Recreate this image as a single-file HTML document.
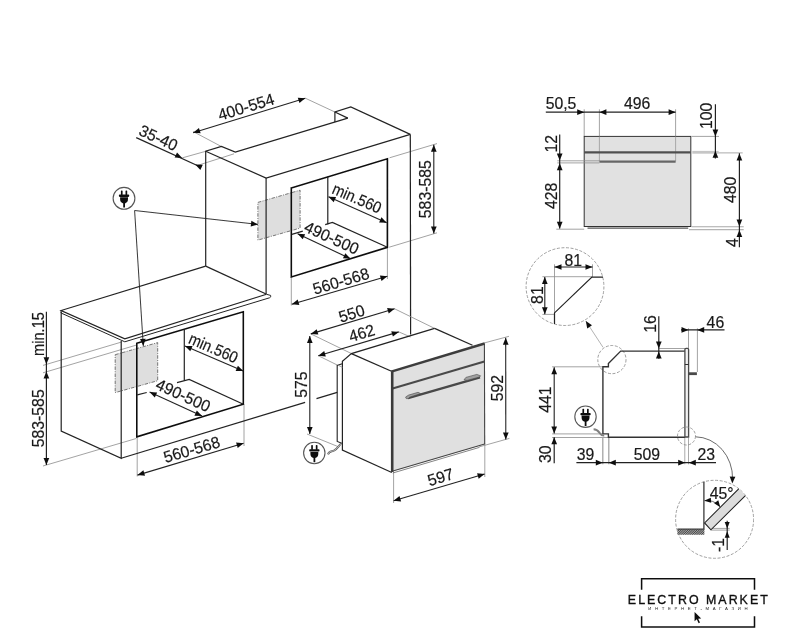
<!DOCTYPE html>
<html lang="ru">
<head>
<meta charset="utf-8">
<title>Electro Market — схема встраивания духового шкафа</title>
<style>
html,body{margin:0;padding:0;background:#fff;}
body{width:791px;height:640px;overflow:hidden;}
svg{display:block;font-family:"Liberation Sans",sans-serif;}
</style>
</head>
<body>
<svg width="791" height="640" viewBox="0 0 791 640">
<defs><filter id="soft" x="0" y="0" width="791" height="640" filterUnits="userSpaceOnUse"><feGaussianBlur stdDeviation="0.32"/></filter></defs>
<rect width="791" height="640" fill="#fff"/>
<g filter="url(#soft)">
<polygon points="257.9,202.4 300.1,190.2 300.1,228.1 257.9,240.1" fill="#dedede" stroke="#666" stroke-width="0.9" stroke-dasharray="3.5 1.3 1 1.3"/>
<polygon points="115.2,354.7 157.7,342.6 157.7,380.7 115.2,392.6" fill="#dedede" stroke="#666" stroke-width="0.9" stroke-dasharray="3.5 1.3 1 1.3"/>
<line x1="193" y1="131.5" x2="221.4" y2="146.5" stroke="#8c8c8c" stroke-width="0.8" />
<line x1="305.3" y1="98.2" x2="334.9" y2="112" stroke="#8c8c8c" stroke-width="0.8" />
<line x1="182.2" y1="157.9" x2="205.7" y2="151.3" stroke="#8c8c8c" stroke-width="0.8" />
<line x1="197.3" y1="165.5" x2="234" y2="153.8" stroke="#8c8c8c" stroke-width="0.8" />
<line x1="291.3" y1="277" x2="291.3" y2="305.5" stroke="#8c8c8c" stroke-width="0.8" />
<line x1="387.4" y1="247.3" x2="387.4" y2="279" stroke="#8c8c8c" stroke-width="0.8" />
<line x1="389.5" y1="157.8" x2="437" y2="143.6" stroke="#8c8c8c" stroke-width="0.8" />
<line x1="389.2" y1="247.2" x2="437" y2="232.8" stroke="#8c8c8c" stroke-width="0.8" />
<polyline points="205.7,266.1 205.7,151.3 221.4,146.5 235.3,152 347.8,118.1" fill="none" stroke="#222" stroke-width="1.2" />
<polyline points="205.7,151.3 266.1,178.1 410.3,134.4" fill="none" stroke="#222" stroke-width="1.2" />
<line x1="266.1" y1="178.1" x2="266.1" y2="294" stroke="#222" stroke-width="1.2" />
<line x1="410.3" y1="134.4" x2="410.6" y2="334.5" stroke="#222" stroke-width="1.2" />
<polyline points="334.9,121.9 334.9,112 350.8,107 410.3,134.4" fill="none" stroke="#222" stroke-width="1.2" />
<line x1="334.9" y1="112" x2="347.8" y2="118.1" stroke="#222" stroke-width="1.2" />
<line x1="327.8" y1="176.8" x2="327.8" y2="224.3" stroke="#222" stroke-width="1.2" />
<line x1="291.8" y1="234.3" x2="302.8" y2="231.1" stroke="#222" stroke-width="1.2" />
<polyline points="325.2,224.6 332.4,222.5 387.4,247.3" fill="none" stroke="#222" stroke-width="1.2" />
<polygon points="291.3,187.9 387.4,158.8 387.4,247.3 291.3,276.9" fill="none" stroke="#111" stroke-width="1.6" />
<line x1="328.5" y1="196.8" x2="386.7" y2="222.8" stroke="#222" stroke-width="1.1" />
<polygon points="386.7,222.8 379.15,222.55 381.47,217.34" fill="#111"/>
<polygon points="328.5,196.8 336.05,197.05 333.73,202.26" fill="#111"/>
<line x1="297.6" y1="233.8" x2="350.5" y2="258.7" stroke="#222" stroke-width="1.1" />
<polygon points="350.5,258.7 342.95,258.3 345.38,253.14" fill="#111"/>
<polygon points="297.6,233.8 305.15,234.2 302.72,239.36" fill="#111"/>
<line x1="291.8" y1="304.3" x2="387.4" y2="276.2" stroke="#222" stroke-width="1.1" />
<polygon points="387.4,276.2 381.49,280.91 379.88,275.44" fill="#111"/>
<polygon points="291.8,304.3 297.71,299.59 299.32,305.06" fill="#111"/>
<line x1="433.8" y1="144.7" x2="433.8" y2="233.5" stroke="#222" stroke-width="1.1" />
<polygon points="433.8,233.5 430.95,226.5 436.65,226.5" fill="#111"/>
<polygon points="433.8,144.7 436.65,151.7 430.95,151.7" fill="#111"/>
<line x1="193.1" y1="132.7" x2="305.3" y2="98.3" stroke="#222" stroke-width="1.1" />
<polygon points="305.3,98.3 299.44,103.08 297.77,97.63" fill="#111"/>
<polygon points="193.1,132.7 198.96,127.92 200.63,133.37" fill="#111"/>
<line x1="136.2" y1="137.6" x2="201.1" y2="167.2" stroke="#222" stroke-width="1.2" />
<polygon points="182.2,157.9 174.65,157.59 177.01,152.4" fill="#111"/>
<polygon points="195.2,164.4 202.75,164.71 200.39,169.9" fill="#111"/>
<text transform="translate(246.1 107.3) rotate(-17) scale(0.975 1)" x="0" y="5.2" text-anchor="middle" font-size="16.2" fill="#1a1a1a" stroke="#1a1a1a" stroke-width="0.2" >400-554</text>
<text transform="translate(158.2 138.2) rotate(24.5) scale(0.975 1)" x="0" y="5.2" text-anchor="middle" font-size="16.2" fill="#1a1a1a" stroke="#1a1a1a" stroke-width="0.2" >35-40</text>
<text transform="translate(356.8 198.5) rotate(23.5) scale(0.9 1)" x="0" y="5.2" text-anchor="middle" font-size="16.2" fill="#1a1a1a" stroke="#1a1a1a" stroke-width="0.2" >min.560</text>
<text transform="translate(331.6 238.2) rotate(24.5) scale(0.975 1)" x="0" y="5.2" text-anchor="middle" font-size="16.2" fill="#1a1a1a" stroke="#1a1a1a" stroke-width="0.2" >490-500</text>
<text transform="translate(341.1 281.5) rotate(-16.5) scale(0.975 1)" x="0" y="5.2" text-anchor="middle" font-size="16.2" fill="#1a1a1a" stroke="#1a1a1a" stroke-width="0.2" >560-568</text>
<text transform="translate(425.6 189.2) rotate(-90) scale(0.975 1)" x="0" y="5.2" text-anchor="middle" font-size="16.2" fill="#1a1a1a" stroke="#1a1a1a" stroke-width="0.2" >583-585</text>
<polyline points="258,224.4 134.6,210.5 143.3,345.9" fill="none" stroke="#222" stroke-width="0.9" />
<polygon points="258,224.4 250.72,226.45 251.36,220.78" fill="#111"/>
<polygon points="143.3,345.9 140.01,339.1 145.7,338.73" fill="#111"/>
<g transform="translate(124 198.3)"><circle r="10.9" fill="#fff" stroke="#555" stroke-width="1.1"/><rect x="-3.1" y="-7.9" width="1.7" height="4.8" rx="0.6" fill="#111"/><rect x="1.5" y="-7.9" width="1.7" height="4.8" rx="0.6" fill="#111"/><rect x="-5.1" y="-3.8" width="10.3" height="2.4" rx="0.8" fill="#111"/><path d="M-3.9,-1.1 H4 V1 C4,3.5 2.6,4.6 1,5.1 V9.2 H-0.8 V5.1 C-2.5,4.6 -3.9,3.5 -3.9,1 Z" fill="#111"/></g>
<line x1="43" y1="365.4" x2="121" y2="342.2" stroke="#8c8c8c" stroke-width="0.8" />
<line x1="43" y1="372.8" x2="136" y2="345.2" stroke="#8c8c8c" stroke-width="0.8" />
<line x1="43" y1="466" x2="136.2" y2="438.5" stroke="#8c8c8c" stroke-width="0.8" />
<line x1="137.2" y1="437" x2="137.2" y2="476.5" stroke="#8c8c8c" stroke-width="0.8" />
<line x1="244" y1="404" x2="244" y2="446" stroke="#8c8c8c" stroke-width="0.8" />
<polyline points="205.7,266.1 61.1,310.5 124.8,338.8 266.5,294.3" fill="none" stroke="#222" stroke-width="1.2" />
<line x1="205.7" y1="266.1" x2="266.1" y2="294" stroke="#222" stroke-width="1.2" />
<path d="M61.1,310.5 L61.1,313 L124.8,341.8 L269.5,297.8 Q271.5,297 270.6,295.4 L266.5,294.3" fill="none" stroke="#222" stroke-width="1"/>
<polyline points="61.2,312 61.2,431 121.2,458.3 121.2,341" fill="none" stroke="#222" stroke-width="1.2" />
<line x1="121.2" y1="458.3" x2="305.1" y2="402.4" stroke="#222" stroke-width="1.2" />
<line x1="316.5" y1="398.6" x2="337.2" y2="392.4" stroke="#222" stroke-width="1.2" />
<line x1="184.3" y1="330" x2="184.3" y2="380.6" stroke="#222" stroke-width="1.2" />
<line x1="137.3" y1="394.9" x2="146.7" y2="392.5" stroke="#222" stroke-width="1.2" />
<polyline points="177,382.6 189.2,379.4 243.4,404.2" fill="none" stroke="#222" stroke-width="1.2" />
<polygon points="136.8,343.3 243.3,311.7 243.3,404.2 136.8,436.8" fill="none" stroke="#111" stroke-width="1.6" />
<line x1="185" y1="345.9" x2="243.2" y2="371.1" stroke="#222" stroke-width="1.1" />
<polygon points="243.2,371.1 235.64,370.93 237.91,365.7" fill="#111"/>
<polygon points="185,345.9 192.56,346.07 190.29,351.3" fill="#111"/>
<line x1="149.6" y1="392.1" x2="202" y2="416.1" stroke="#222" stroke-width="1.1" />
<polygon points="202,416.1 194.45,415.78 196.82,410.59" fill="#111"/>
<polygon points="149.6,392.1 157.15,392.42 154.78,397.61" fill="#111"/>
<line x1="137.5" y1="475.1" x2="243.6" y2="443.2" stroke="#222" stroke-width="1.1" />
<polygon points="243.6,443.2 237.72,447.94 236.08,442.49" fill="#111"/>
<polygon points="137.5,475.1 143.38,470.36 145.02,475.81" fill="#111"/>
<line x1="46.4" y1="311.7" x2="46.4" y2="465" stroke="#222" stroke-width="1.2" />
<polygon points="46.4,364.2 43.55,357.2 49.25,357.2" fill="#111"/>
<polygon points="46.4,371.6 49.25,378.6 43.55,378.6" fill="#111"/>
<polygon points="46.4,465 43.55,458 49.25,458" fill="#111"/>
<text transform="translate(38.6 334) rotate(-90) scale(0.9 1)" x="0" y="5.2" text-anchor="middle" font-size="16.2" fill="#1a1a1a" stroke="#1a1a1a" stroke-width="0.2" >min.15</text>
<text transform="translate(38.8 418.3) rotate(-90) scale(0.975 1)" x="0" y="5.2" text-anchor="middle" font-size="16.2" fill="#1a1a1a" stroke="#1a1a1a" stroke-width="0.2" >583-585</text>
<text transform="translate(213.3 348.4) rotate(23.5) scale(0.9 1)" x="0" y="5.2" text-anchor="middle" font-size="16.2" fill="#1a1a1a" stroke="#1a1a1a" stroke-width="0.2" >min.560</text>
<text transform="translate(183 395.7) rotate(24.5) scale(0.975 1)" x="0" y="5.2" text-anchor="middle" font-size="16.2" fill="#1a1a1a" stroke="#1a1a1a" stroke-width="0.2" >490-500</text>
<text transform="translate(191.8 449.9) rotate(-16.5) scale(0.975 1)" x="0" y="5.2" text-anchor="middle" font-size="16.2" fill="#1a1a1a" stroke="#1a1a1a" stroke-width="0.2" >560-568</text>
<line x1="310.8" y1="333.9" x2="351.7" y2="353.7" stroke="#8c8c8c" stroke-width="0.8" />
<line x1="318.3" y1="355.7" x2="337.2" y2="365" stroke="#8c8c8c" stroke-width="0.8" />
<line x1="394.6" y1="308.8" x2="434.6" y2="328.4" stroke="#8c8c8c" stroke-width="0.8" />
<line x1="398.8" y1="331.9" x2="410.6" y2="337" stroke="#8c8c8c" stroke-width="0.8" />
<line x1="307" y1="434" x2="338" y2="446.6" stroke="#8c8c8c" stroke-width="0.8" />
<line x1="484.1" y1="343" x2="509" y2="336.3" stroke="#8c8c8c" stroke-width="0.8" />
<line x1="479.1" y1="446.9" x2="509.4" y2="438.4" stroke="#8c8c8c" stroke-width="0.8" />
<line x1="393.6" y1="471.8" x2="393.6" y2="503" stroke="#8c8c8c" stroke-width="0.8" />
<line x1="484.8" y1="443.5" x2="484.8" y2="477" stroke="#8c8c8c" stroke-width="0.8" />
<polyline points="434.6,328.4 351.4,353.6 342.4,361.2 342.4,450 391.8,472.5" fill="none" stroke="#222" stroke-width="1.2" />
<line x1="351.4" y1="353.6" x2="391.5" y2="371.3" stroke="#222" stroke-width="1.2" />
<line x1="434.6" y1="328.4" x2="472.5" y2="345.3" stroke="#222" stroke-width="1.2" />
<polyline points="342.4,443.4 337.2,441.4 337.2,365.4 342.2,363.8" fill="none" stroke="#222" stroke-width="1.1" />
<line x1="338" y1="365.2" x2="342.4" y2="367.3" stroke="#8c8c8c" stroke-width="0.8" />
<path d="M328,454.4 C329.5,450.2 332,452 334.5,450.3 C337.5,448.3 338.5,446 341,443.8" fill="none" stroke="#555" stroke-width="1.9"/>
<path d="M328,454.4 C329.5,450.2 332,452 334.5,450.3 C337.5,448.3 338.5,446 341,443.8" fill="none" stroke="#e8e8e8" stroke-width="0.7"/>
<polygon points="391.8,371.3 484.4,343.4 484.7,444.2 392.1,471.6" fill="#e0e0e0" stroke="none" stroke-width="0" />
<line x1="484.4" y1="343.4" x2="484.7" y2="444.2" stroke="#444" stroke-width="1.1" />
<line x1="392.1" y1="471.3" x2="484.7" y2="444" stroke="#444" stroke-width="1.1" />
<line x1="392.8" y1="473" x2="479.4" y2="447.4" stroke="#666" stroke-width="0.8" />
<line x1="392.6" y1="388.6" x2="484.4" y2="361.5" stroke="#4a4a4a" stroke-width="2.1" />
<line x1="392.2" y1="371.5" x2="392.2" y2="472" stroke="#3a3a3a" stroke-width="2.6" />
<line x1="391.2" y1="371.6" x2="484.6" y2="343.5" stroke="#3d3d3d" stroke-width="2.5" />
<line x1="408" y1="398.2" x2="480" y2="377.3" stroke="#484848" stroke-width="2.3" />
<polygon points="405.6,397 408.6,395.1 418.1,392.3 420.6,393.6 409.5,397.2 408.5,398.6 406.3,398.6" fill="#a0a0a0" stroke="#444" stroke-width="0.6" />
<polygon points="464,379.8 465.9,377.4 476.8,374.4 480.6,375.8 479.5,377 467,380.4" fill="#a0a0a0" stroke="#444" stroke-width="0.6" />
<line x1="310.8" y1="333.9" x2="394.6" y2="308.8" stroke="#222" stroke-width="1.1" />
<polygon points="394.6,308.8 388.71,313.54 387.08,308.08" fill="#111"/>
<polygon points="310.8,333.9 316.69,329.16 318.32,334.62" fill="#111"/>
<line x1="318.3" y1="355.7" x2="398.8" y2="331.9" stroke="#222" stroke-width="1.1" />
<polygon points="398.8,331.9 392.9,336.62 391.28,331.15" fill="#111"/>
<polygon points="318.3,355.7 324.2,350.98 325.82,356.45" fill="#111"/>
<line x1="309.8" y1="336" x2="309.8" y2="434" stroke="#222" stroke-width="1.1" />
<polygon points="309.8,434 306.95,427 312.65,427" fill="#111"/>
<polygon points="309.8,336 312.65,343 306.95,343" fill="#111"/>
<line x1="505.7" y1="337.7" x2="505.8" y2="439.4" stroke="#222" stroke-width="1.1" />
<polygon points="505.8,439.4 502.94,432.4 508.64,432.4" fill="#111"/>
<polygon points="505.7,337.7 508.56,344.7 502.86,344.7" fill="#111"/>
<line x1="393.6" y1="500.7" x2="484.6" y2="474" stroke="#222" stroke-width="1.1" />
<polygon points="484.6,474 478.69,478.71 477.08,473.24" fill="#111"/>
<polygon points="393.6,500.7 399.51,495.99 401.12,501.46" fill="#111"/>
<text transform="translate(351.7 313.9) rotate(-17) scale(0.975 1)" x="0" y="5.2" text-anchor="middle" font-size="16.2" fill="#1a1a1a" stroke="#1a1a1a" stroke-width="0.2" >550</text>
<text transform="translate(361.8 333.5) rotate(-17) scale(0.975 1)" x="0" y="5.2" text-anchor="middle" font-size="16.2" fill="#1a1a1a" stroke="#1a1a1a" stroke-width="0.2" >462</text>
<text transform="translate(302.2 384.7) rotate(-90) scale(0.975 1)" x="0" y="5.2" text-anchor="middle" font-size="16.2" fill="#1a1a1a" stroke="#1a1a1a" stroke-width="0.2" >575</text>
<text transform="translate(497.7 388.1) rotate(-90) scale(0.975 1)" x="0" y="5.2" text-anchor="middle" font-size="16.2" fill="#1a1a1a" stroke="#1a1a1a" stroke-width="0.2" >592</text>
<text transform="translate(440.6 477.4) rotate(-16.5) scale(0.975 1)" x="0" y="5.2" text-anchor="middle" font-size="16.2" fill="#1a1a1a" stroke="#1a1a1a" stroke-width="0.2" >597</text>
<g transform="translate(314.3 453)"><circle r="10.7" fill="#fff" stroke="#555" stroke-width="1.1"/><rect x="-3.1" y="-7.9" width="1.7" height="4.8" rx="0.6" fill="#111"/><rect x="1.5" y="-7.9" width="1.7" height="4.8" rx="0.6" fill="#111"/><rect x="-5.1" y="-3.8" width="10.3" height="2.4" rx="0.8" fill="#111"/><path d="M-3.9,-1.1 H4 V1 C4,3.5 2.6,4.6 1,5.1 V9.2 H-0.8 V5.1 C-2.5,4.6 -3.9,3.5 -3.9,1 Z" fill="#111"/></g>
<line x1="584.2" y1="109.3" x2="584.2" y2="136.4" stroke="#8c8c8c" stroke-width="0.8" />
<line x1="599.4" y1="109.3" x2="599.4" y2="161.5" stroke="#8c8c8c" stroke-width="0.8" />
<line x1="675.6" y1="109.3" x2="675.6" y2="161.5" stroke="#8c8c8c" stroke-width="0.8" />
<rect x="584.2" y="136.4" width="106.6" height="90.1" fill="#e1e1e1" stroke="#333" stroke-width="1"/>
<line x1="599.4" y1="136.4" x2="599.4" y2="161.5" stroke="#999" stroke-width="0.8" />
<line x1="675.6" y1="136.4" x2="675.6" y2="161.5" stroke="#999" stroke-width="0.8" />
<line x1="584.2" y1="152.4" x2="690.8" y2="152.4" stroke="#505050" stroke-width="2.3" />
<line x1="599.4" y1="161.6" x2="675.6" y2="161.6" stroke="#666" stroke-width="2.1" />
<line x1="587.5" y1="228.2" x2="688.2" y2="228.2" stroke="#555" stroke-width="1.3" />
<line x1="557.3" y1="160.8" x2="599.4" y2="160.8" stroke="#8c8c8c" stroke-width="0.8" />
<line x1="557.3" y1="162.9" x2="599.4" y2="162.9" stroke="#8c8c8c" stroke-width="0.8" />
<line x1="556.3" y1="229.2" x2="584.2" y2="229.2" stroke="#8c8c8c" stroke-width="0.8" />
<line x1="691.7" y1="136.4" x2="719" y2="136.4" stroke="#8c8c8c" stroke-width="0.8" />
<rect x="692.3" y="150.9" width="26.4" height="2.8" fill="#c6c6c6"/>
<line x1="718.5" y1="152.9" x2="742.7" y2="152.9" stroke="#aaa" stroke-width="1" />
<line x1="691.5" y1="226.8" x2="743.7" y2="226.8" stroke="#a8a8a8" stroke-width="1.1" />
<line x1="689" y1="229.6" x2="743.7" y2="229.6" stroke="#b4b4b4" stroke-width="1.1" />
<line x1="545.8" y1="112.2" x2="675.6" y2="112.2" stroke="#222" stroke-width="1.2" />
<polygon points="584.2,112.2 577.2,115.05 577.2,109.35" fill="#111"/>
<polygon points="599.4,112.2 606.4,109.35 606.4,115.05" fill="#111"/>
<polygon points="675.6,112.2 668.6,115.05 668.6,109.35" fill="#111"/>
<line x1="559.7" y1="134.6" x2="559.7" y2="228.5" stroke="#222" stroke-width="1.2" />
<polygon points="559.7,160.4 556.85,153.4 562.55,153.4" fill="#111"/>
<polygon points="559.7,163.3 562.55,170.3 556.85,170.3" fill="#111"/>
<polygon points="559.7,228.8 556.85,221.8 562.55,221.8" fill="#111"/>
<line x1="715.4" y1="104.2" x2="715.4" y2="158.6" stroke="#222" stroke-width="1.2" />
<polygon points="715.4,136.4 712.55,129.4 718.25,129.4" fill="#111"/>
<polygon points="715.4,150.8 718.25,157.8 712.55,157.8" fill="#111"/>
<line x1="739.4" y1="153.2" x2="739.4" y2="247.3" stroke="#222" stroke-width="1.2" />
<polygon points="739.4,153.6 742.25,160.6 736.55,160.6" fill="#111"/>
<polygon points="739.4,226.5 736.55,219.5 742.25,219.5" fill="#111"/>
<polygon points="739.4,230.1 742.25,237.1 736.55,237.1" fill="#111"/>
<text transform="translate(561 103.6) scale(0.975 1)" x="0" y="5.2" text-anchor="middle" font-size="16.2" fill="#1a1a1a" stroke="#1a1a1a" stroke-width="0.2" >50,5</text>
<text transform="translate(637.2 103.6) scale(0.975 1)" x="0" y="5.2" text-anchor="middle" font-size="16.2" fill="#1a1a1a" stroke="#1a1a1a" stroke-width="0.2" >496</text>
<text transform="translate(552.2 143.7) rotate(-90) scale(0.975 1)" x="0" y="5.2" text-anchor="middle" font-size="16.2" fill="#1a1a1a" stroke="#1a1a1a" stroke-width="0.2" >12</text>
<text transform="translate(552.2 195.8) rotate(-90) scale(0.975 1)" x="0" y="5.2" text-anchor="middle" font-size="16.2" fill="#1a1a1a" stroke="#1a1a1a" stroke-width="0.2" >428</text>
<text transform="translate(706.4 115.9) rotate(-90) scale(0.975 1)" x="0" y="5.2" text-anchor="middle" font-size="16.2" fill="#1a1a1a" stroke="#1a1a1a" stroke-width="0.2" >100</text>
<text transform="translate(731.1 189.8) rotate(-90) scale(0.975 1)" x="0" y="5.2" text-anchor="middle" font-size="16.2" fill="#1a1a1a" stroke="#1a1a1a" stroke-width="0.2" >480</text>
<text transform="translate(732.4 242.6) rotate(-90) scale(0.975 1)" x="0" y="5.2" text-anchor="middle" font-size="16.2" fill="#1a1a1a" stroke="#1a1a1a" stroke-width="0.2" >4</text>
<circle cx="565" cy="286.6" r="38.9" fill="none" stroke="#888" stroke-width="0.8" stroke-dasharray="3 1.6"/>
<line x1="554.5" y1="264.3" x2="554.5" y2="312.9" stroke="#8c8c8c" stroke-width="0.8" />
<line x1="592.5" y1="264.3" x2="592.5" y2="277.1" stroke="#8c8c8c" stroke-width="0.8" />
<line x1="542.4" y1="276.7" x2="591.9" y2="276.7" stroke="#8c8c8c" stroke-width="0.8" />
<line x1="542.4" y1="314.4" x2="554.5" y2="314.4" stroke="#8c8c8c" stroke-width="0.8" />
<polyline points="554.5,324 554.5,312.9 591.9,277.1 603,277.1" fill="none" stroke="#222" stroke-width="1.2" />
<line x1="554.5" y1="267" x2="592.5" y2="267" stroke="#222" stroke-width="1.1" />
<polygon points="592.5,267 585.5,269.85 585.5,264.15" fill="#111"/>
<polygon points="554.5,267 561.5,264.15 561.5,269.85" fill="#111"/>
<line x1="544.8" y1="277.1" x2="544.8" y2="314.3" stroke="#222" stroke-width="1.1" />
<polygon points="544.8,314.3 541.95,307.3 547.65,307.3" fill="#111"/>
<polygon points="544.8,277.1 547.65,284.1 541.95,284.1" fill="#111"/>
<text transform="translate(573.3 260.3) scale(0.975 1)" x="0" y="5.2" text-anchor="middle" font-size="16.2" fill="#1a1a1a" stroke="#1a1a1a" stroke-width="0.2" >81</text>
<text transform="translate(537.3 295.1) rotate(-90) scale(0.975 1)" x="0" y="5.2" text-anchor="middle" font-size="16.2" fill="#1a1a1a" stroke="#1a1a1a" stroke-width="0.2" >81</text>
<line x1="603" y1="347.3" x2="585.8" y2="321" stroke="#aaa" stroke-width="0.9" />
<polygon points="585.8,321 592.02,325.3 587.25,328.42" fill="#111"/>
<circle cx="611.9" cy="359.6" r="14.1" fill="none" stroke="#888" stroke-width="0.8" stroke-dasharray="3 1.6"/>
<line x1="552.1" y1="366.8" x2="602.7" y2="366.8" stroke="#8c8c8c" stroke-width="0.8" />
<line x1="552.1" y1="433.9" x2="602.7" y2="433.9" stroke="#8c8c8c" stroke-width="0.8" />
<line x1="552.1" y1="437.5" x2="608.4" y2="437.5" stroke="#8c8c8c" stroke-width="0.8" />
<line x1="602.8" y1="437" x2="602.8" y2="464.3" stroke="#a4a4a4" stroke-width="1.3" />
<line x1="608.8" y1="437" x2="608.8" y2="464.3" stroke="#a4a4a4" stroke-width="1.3" />
<line x1="684.8" y1="438" x2="684.8" y2="464.3" stroke="#aaa" stroke-width="1" />
<line x1="688.5" y1="438" x2="688.5" y2="464.3" stroke="#aaa" stroke-width="1" />
<line x1="688.5" y1="328.3" x2="688.5" y2="348.5" stroke="#8c8c8c" stroke-width="0.8" />
<line x1="697.4" y1="328.3" x2="697.4" y2="372" stroke="#8c8c8c" stroke-width="0.8" />
<line x1="658.8" y1="348.5" x2="685.1" y2="348.5" stroke="#8c8c8c" stroke-width="0.8" />
<polyline points="685.2,437.3 608.4,437.3 608.4,433.9 602.9,433.9 602.9,366.7 608.4,366.7 608.4,363.5 620.7,351.1 685.1,351.1" fill="none" stroke="#333" stroke-width="1.4" />
<path d="M684.9,437 V349.6 Q684.9,348.4 686.1,348.4 H687.4 Q688.6,348.4 688.6,349.6 V437 Z" fill="#f2f2f2" stroke="#484848" stroke-width="1.3"/>
<line x1="684.9" y1="364.5" x2="688.6" y2="364.5" stroke="#333" stroke-width="1" />
<line x1="688.8" y1="373.7" x2="696.9" y2="373.7" stroke="#484848" stroke-width="2.8" />
<path d="M593.6,429.2 C597.5,429.3 598.2,431 599.6,433 C600.8,434.8 601.8,435.8 604.2,435.5" fill="none" stroke="#808080" stroke-width="2"/>
<g transform="translate(585.5 416.7)"><circle r="10.7" fill="#fff" stroke="#555" stroke-width="1.1"/><rect x="-3.1" y="-7.9" width="1.7" height="4.8" rx="0.6" fill="#111"/><rect x="1.5" y="-7.9" width="1.7" height="4.8" rx="0.6" fill="#111"/><rect x="-5.1" y="-3.8" width="10.3" height="2.4" rx="0.8" fill="#111"/><path d="M-3.9,-1.1 H4 V1 C4,3.5 2.6,4.6 1,5.1 V9.2 H-0.8 V5.1 C-2.5,4.6 -3.9,3.5 -3.9,1 Z" fill="#111"/></g>
<circle cx="686.5" cy="436" r="9" fill="none" stroke="#888" stroke-width="0.8" stroke-dasharray="3 1.6"/>
<line x1="554.2" y1="367.2" x2="554.2" y2="433.5" stroke="#222" stroke-width="1.1" />
<polygon points="554.2,433.5 551.35,426.5 557.05,426.5" fill="#111"/>
<polygon points="554.2,367.2 557.05,374.2 551.35,374.2" fill="#111"/>
<line x1="554.2" y1="437.3" x2="554.2" y2="463.3" stroke="#222" stroke-width="1.2" />
<polygon points="554.2,437.3 557.05,444.3 551.35,444.3" fill="#111"/>
<line x1="576.4" y1="462.7" x2="716" y2="462.7" stroke="#222" stroke-width="1.2" />
<polygon points="602.8,462.7 595.8,465.55 595.8,459.85" fill="#111"/>
<polygon points="608.8,462.7 615.8,459.85 615.8,465.55" fill="#111"/>
<polygon points="685.2,462.7 678.2,465.55 678.2,459.85" fill="#111"/>
<polygon points="688.8,462.7 695.8,459.85 695.8,465.55" fill="#111"/>
<line x1="658.8" y1="316.2" x2="658.8" y2="358.7" stroke="#222" stroke-width="1.2" />
<polygon points="658.8,348.5 655.95,341.5 661.65,341.5" fill="#111"/>
<polygon points="658.8,351.4 661.65,358.4 655.95,358.4" fill="#111"/>
<line x1="681" y1="329.9" x2="724.5" y2="329.9" stroke="#222" stroke-width="1.2" />
<polygon points="688.5,329.9 681.5,332.75 681.5,327.05" fill="#111"/>
<polygon points="697.2,329.9 704.2,327.05 704.2,332.75" fill="#111"/>
<text transform="translate(546.1 399.6) rotate(-90) scale(0.975 1)" x="0" y="5.2" text-anchor="middle" font-size="16.2" fill="#1a1a1a" stroke="#1a1a1a" stroke-width="0.2" >441</text>
<text transform="translate(546.1 454.2) rotate(-90) scale(0.975 1)" x="0" y="5.2" text-anchor="middle" font-size="16.2" fill="#1a1a1a" stroke="#1a1a1a" stroke-width="0.2" >30</text>
<text transform="translate(585.5 455.2) scale(0.975 1)" x="0" y="5.2" text-anchor="middle" font-size="16.2" fill="#1a1a1a" stroke="#1a1a1a" stroke-width="0.2" >39</text>
<text transform="translate(646.8 455.2) scale(0.975 1)" x="0" y="5.2" text-anchor="middle" font-size="16.2" fill="#1a1a1a" stroke="#1a1a1a" stroke-width="0.2" >509</text>
<text transform="translate(706.3 455) scale(0.975 1)" x="0" y="5.2" text-anchor="middle" font-size="16.2" fill="#1a1a1a" stroke="#1a1a1a" stroke-width="0.2" >23</text>
<text transform="translate(650.7 323.9) rotate(-90) scale(0.975 1)" x="0" y="5.2" text-anchor="middle" font-size="16.2" fill="#1a1a1a" stroke="#1a1a1a" stroke-width="0.2" >16</text>
<text transform="translate(715.4 322.8) scale(0.975 1)" x="0" y="5.2" text-anchor="middle" font-size="16.2" fill="#1a1a1a" stroke="#1a1a1a" stroke-width="0.2" >46</text>
<path d="M695.6,436.8 A37.6,41.5 0 0 1 732.6,479" fill="none" stroke="#6a6a6a" stroke-width="1"/>
<polygon points="732.3,483.6 729.66,476.52 735.36,476.69" fill="#111"/>
<circle cx="714.6" cy="519.3" r="39" fill="none" stroke="#888" stroke-width="0.8" stroke-dasharray="3 1.6"/>
<defs><pattern id="h" width="1.6" height="1.6" patternUnits="userSpaceOnUse" patternTransform="rotate(45)"><rect width="0.8" height="1.6" fill="#444"/></pattern></defs>
<rect x="677.5" y="529.3" width="26.8" height="5.4" fill="#aaa"/>
<rect x="677.5" y="529.3" width="26.8" height="5.4" fill="url(#h)"/>
<polyline points="703.9,481.8 703.9,529.1 677.5,529.1" fill="none" stroke="#3a3a3a" stroke-width="1.3" />
<line x1="710.9" y1="528.4" x2="729.7" y2="528.4" stroke="#8c8c8c" stroke-width="0.8" />
<line x1="710.9" y1="530.1" x2="729.7" y2="530.1" stroke="#8c8c8c" stroke-width="0.8" />
<polygon points="704.6,522.9 738.7,488.8 745.4,495.7 710.9,529.8" fill="#dcdcdc" stroke="none" stroke-width="0" />
<polyline points="738.7,488.8 704.6,522.9 710.9,529.8 745.4,495.7" fill="none" stroke="#222" stroke-width="1.1" />
<path d="M704.6,500.6 Q713,499.5 719.6,506" fill="none" stroke="#444" stroke-width="0.8"/>
<polygon points="704.2,500.8 710.77,497.67 711.19,502.85" fill="#111"/>
<polygon points="720.3,507.2 714.14,503.32 718.3,500.2" fill="#111"/>
<text transform="translate(721.6 493.6) scale(0.975 1)" x="0" y="5.2" text-anchor="middle" font-size="16.2" fill="#1a1a1a" stroke="#1a1a1a" stroke-width="0.2" >45°</text>
<line x1="727.2" y1="520.8" x2="727.2" y2="550" stroke="#222" stroke-width="1.2" />
<polygon points="727.2,528.4 724.7,521.9 729.7,521.9" fill="#111"/>
<polygon points="727.2,531.2 729.7,537.7 724.7,537.7" fill="#111"/>
<text transform="translate(718.6 545.1) rotate(-90) scale(0.975 1)" x="0" y="5.2" text-anchor="middle" font-size="16.2" fill="#1a1a1a" stroke="#1a1a1a" stroke-width="0.2" >-1</text>
<polyline points="641.6,589.8 641.6,578.7 754.5,578.7 754.5,589.8" fill="none" stroke="#111" stroke-width="1.5" />
<polyline points="641.6,616.3 641.6,627.1 754.5,627.1 754.5,616.3" fill="none" stroke="#111" stroke-width="1.5" />
<text x="698.6" y="604" text-anchor="middle" font-size="12.4" fill="#111" stroke="#111" stroke-width="0.35" textLength="141.5" lengthAdjust="spacing" style="letter-spacing:1.6px">ELECTRO MARKET</text>
<text x="698.7" y="610" text-anchor="middle" font-size="4.3" fill="#222" textLength="101" lengthAdjust="spacing" style="letter-spacing:1.6px">ИНТЕРНЕТ-МАГАЗИН</text>
<path d="M694.6,612 L694.6,621.2 L696.8,619.2 L698.6,623.2 L700,622.6 L698.2,618.7 L701.2,618.5 Z" fill="#111"/>
</g>
</svg>
</body>
</html>
